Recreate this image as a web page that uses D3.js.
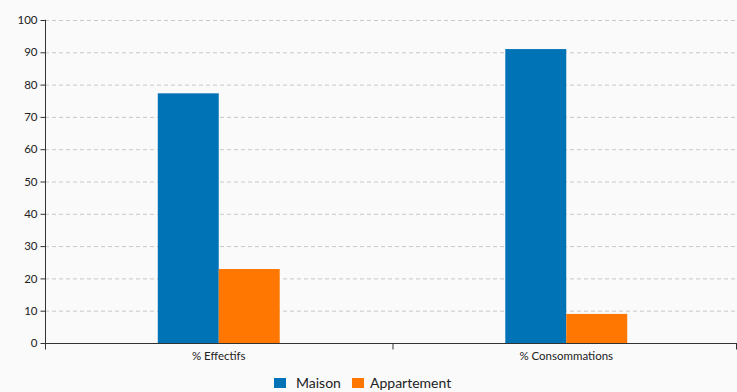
<!DOCTYPE html>
<html><head><meta charset="utf-8">
<script src="https://cdn.jsdelivr.net/npm/d3@7"></script>
<style>
html,body{margin:0;padding:0;background:#fafafa;}
svg{display:block;font-family:Lato,"Open Sans",sans-serif;}
</style></head>
<body>
<svg id="c" width="737" height="392"></svg>
<script>
const categories = ["% Effectifs", "% Consommations"];
const seriesNames = ["Maison", "Appartement"];
const maison = [77.3, 91];
const appartement = [22.9, 9];
const yTicks = [0,10,20,30,40,50,60,70,80,90,100];
const colors = ["#0073b6", "#ff7700"];

const svg = d3.select("#c");
const m = {left:45, right:-3, top:20, bottom:49};
const W = 737, H = 392;
const x0 = d3.scaleBand().domain(categories).range([m.left, W - m.right]).padding(0);
const x1 = d3.scaleBand().domain(seriesNames).range([0, x0.bandwidth()]).paddingInner(0).paddingOuter(1.85);
const y = d3.scaleLinear().domain([0,100]).range([H - m.bottom, m.top]);

// gridlines
svg.append("g").selectAll("line").data(yTicks.filter(d=>d>0)).join("line")
  .attr("x1", m.left).attr("x2", W).attr("y1", d=>y(d)+0.5).attr("y2", d=>y(d)+0.5)
  .attr("stroke", "#c8c8c8").attr("stroke-dasharray", "4,3").attr("stroke-width",1);

const data = categories.map((c,i)=>({cat:c, vals:[{s:seriesNames[0], v:maison[i]},{s:seriesNames[1], v:appartement[i]}]}));
const g = svg.append("g").selectAll("g").data(data).join("g")
  .attr("transform", d=>`translate(${x0(d.cat)},0)`);
g.selectAll("rect").data(d=>d.vals).join("rect")
  .attr("x", d=>x1(d.s)).attr("width", x1.bandwidth())
  .attr("y", d=>y(d.v)).attr("height", d=>y(0)-y(d.v))
  .attr("fill", (d,i)=>colors[i]);

// y axis
const ya = svg.append("g").attr("transform", `translate(${m.left+0.5},0)`)
  .call(d3.axisLeft(y).tickValues(yTicks).tickSize(5).tickPadding(3));
ya.select(".domain").attr("stroke","#333").attr("d", `M-0.5,${y(100)}H0V${y(0)+6}`);
ya.selectAll(".tick line").attr("stroke","#333");
ya.selectAll(".tick text").attr("font-size","11.5px").attr("fill","#222").attr("font-family","Lato,sans-serif");

// x axis
const xa = svg.append("g").attr("transform", `translate(0,${y(0)+0.5})`);
xa.append("line").attr("x1", m.left).attr("x2", W).attr("stroke","#333");
const bounds = [m.left, x0(categories[1]), W - 1];
xa.selectAll(".bt").data(bounds).join("line").attr("class","bt")
  .attr("x1", d=>d+0.5).attr("x2", d=>d+0.5).attr("y1",0).attr("y2",6).attr("stroke","#333");
xa.selectAll("text").data(categories).join("text")
  .attr("x", d=>x0(d)+x0.bandwidth()/2).attr("y", 16)
  .attr("text-anchor","middle").attr("font-size","11.5px").attr("fill","#222").text(d=>d);

// legend
const leg = svg.append("g").attr("transform","translate(274,378)");
const items = [{n:"Maison", x:0},{n:"Appartement", x:78}];
items.forEach((it,i)=>{
  leg.append("rect").attr("x", it.x).attr("y",0).attr("width",12).attr("height",10).attr("fill",colors[i]);
  leg.append("text").attr("x", it.x+(i?18:22)).attr("y",10).attr("font-size","14px").attr("fill","#222").text(it.n);
});
</script>
</body></html>
